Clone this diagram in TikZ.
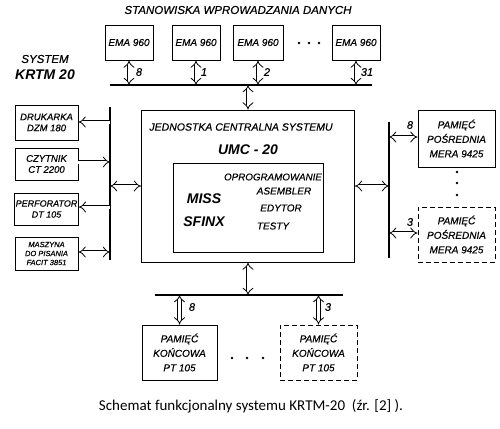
\documentclass[tikz,border=0pt]{standalone}
\usepackage{fontspec}
\setmainfont{Liberation Sans}
\newfontfamily\capfont{Carlito}
\newcommand\dfnt{\itshape\addfontfeature{FakeBold=0.5}}
\usetikzlibrary{arrows.meta}
\begin{document}
\begin{tikzpicture}[x=1pt,y=-1pt,
  box/.style={draw, line width=0.9pt, inner sep=1pt, align=center, font=\fontsize{9.5}{11}\selectfont\dfnt},
  bigbox/.style={box, align=center, font=\fontsize{10}{14.5}\selectfont\dfnt},
  dsh/.style={dashed, dash pattern=on 5pt off 3pt},
  bus/.style={line width=1.1pt},
  darr/.style={double, double distance=3pt, line width=0.8pt},
  lbl/.style={font=\fontsize{10}{11}\selectfont\dfnt, inner sep=0pt},
  num/.style={font=\fontsize{11}{12}\selectfont\dfnt, inner sep=0pt},
  dot/.style={circle, fill, inner sep=0pt, minimum size=2.6pt}]
\useasboundingbox (0,0) rectangle (500,428);

% title
\node[lbl, font=\fontsize{11.5}{12}\selectfont\dfnt] (title) at (238,10) {STANOWISKA WPROWADZANIA DANYCH};
\node[lbl, font=\fontsize{11.5}{12}\selectfont\dfnt] (sys) at (45,59) {SYSTEM};
\node[lbl, font=\itshape\bfseries\fontsize{14}{15}\selectfont] (krtm) at (45,75) {KRTM 20};

% EMA boxes
\node[box, minimum width=48pt, minimum height=35pt, font=\fontsize{10}{11}\selectfont\dfnt] (e1) at (129,42.5) {EMA 960};
\node[box, minimum width=48pt, minimum height=35pt, font=\fontsize{10}{11}\selectfont\dfnt] (e2) at (196,42.5) {EMA 960};
\node[box, minimum width=50pt, minimum height=35pt, font=\fontsize{10}{11}\selectfont\dfnt] (e3) at (258,42.5) {EMA 960};
\node[box, minimum width=48pt, minimum height=35pt, font=\fontsize{10}{11}\selectfont\dfnt] (e4) at (356,42.5) {EMA 960};
\node[dot] (d1) at (299,43) {};
\node[dot] (d2) at (309,43) {};
\node[dot] (d3) at (319,43) {};

% top bus
\coordinate (tbL) at (110,85);
\coordinate (tbR) at (372,85);
\draw[bus] (tbL) -- (tbR);
\draw[darr, Implies-Implies] (e1.south) -- (e1.south |- tbL);
\draw[darr, Implies-Implies] (e2.south) -- (e2.south |- tbL);
\draw[darr, Implies-Implies] (e3.south) -- (e3.south |- tbL);
\draw[darr, Implies-Implies] (e4.south) -- (e4.south |- tbL);
\node[num] (n1) at (139,72) {8};
\node[num] (n2) at (204,72) {1};
\node[num] (n3) at (267,72) {2};
\node[num] (n4) at (367,72) {31};

% central unit
\node[box, minimum width=213pt, minimum height=152pt] (cu) at (248,186) {};
\node[lbl, font=\fontsize{10.5}{12}\selectfont\dfnt] (cut) at (241,127) {JEDNOSTKA CENTRALNA SYSTEMU};
\node[lbl, font=\itshape\bfseries\fontsize{14}{15}\selectfont] (umc) at (248,150) {UMC - 20};
\node[box, minimum width=150pt, minimum height=89pt] (sw) at (248,207.5) {};
\node[lbl, font=\fontsize{9.8}{10}\selectfont\dfnt] (opr) at (273,177) {OPROGRAMOWANIE};
\node[lbl] (ase) at (284,191) {ASEMBLER};
\node[lbl] (edy) at (281,208) {EDYTOR};
\node[lbl] (tes) at (273,226) {TESTY};
\node[lbl, font=\itshape\bfseries\fontsize{14}{15}\selectfont] (miss) at (204,199) {MISS};
\node[lbl, font=\itshape\bfseries\fontsize{14}{15}\selectfont] (sfx) at (204,222) {SFINX};
\draw[darr, Implies-Implies] (cu.north) -- (cu.north |- tbL);

% left bus
\coordinate (lbT) at (110,107);
\coordinate (lbB) at (110,260);
\draw[bus] (lbT) -- (lbB);
\node[box, minimum width=63pt, minimum height=35pt] (l1) at (46.5,122.5) {DRUKARKA\\DZM 180};
\node[box, minimum width=63pt, minimum height=32pt] (l2) at (46.5,164) {CZYTNIK\\CT 2200};
\node[box, minimum width=63pt, minimum height=32pt, font=\fontsize{9}{11}\selectfont\dfnt] (l3) at (46.5,209) {PERFORATOR\\DT 105};
\node[box, minimum width=63pt, minimum height=33pt, font=\fontsize{7.5}{9}\selectfont\dfnt] (l4) at (46.5,253.5) {MASZYNA\\DO PISANIA\\FACIT 3851};
\draw[darr, Implies-] (l1.east |- 0,122) -- (lbT |- 0,122);
\draw[darr, -Implies] (l2.east |- 0,162) -- (lbT |- 0,162);
\draw[darr, Implies-] (l3.east |- 0,207) -- (lbT |- 0,207);
\draw[darr, Implies-Implies] (l4.east |- 0,252) -- (lbT |- 0,252);
\draw[darr, Implies-Implies] (cu.west) -- (cu.west -| lbT);

% right bus
\coordinate (rbT) at (389,122);
\coordinate (rbB) at (389,258);
\draw[bus] (rbT) -- (rbB);
\node[bigbox, minimum width=77pt, minimum height=57pt] (r1) at (456.5,138.5) {PAMIĘĆ\\POŚREDNIA\\MERA 9425};
\node[bigbox, dsh, minimum width=77pt, minimum height=55pt] (r2) at (456.5,234.5) {PAMIĘĆ\\POŚREDNIA\\MERA 9425};
\draw[darr, Implies-Implies] (r1.west |- 0,137) -- (rbT |- 0,137);
\draw[darr, Implies-Implies] (r2.west |- 0,233) -- (rbT |- 0,233);
\node[num] (n5) at (410,125) {8};
\node[num] (n6) at (410,222) {3};
\node[dot] (d4) at (457,172) {};
\node[dot] (d5) at (457,183) {};
\node[dot] (d6) at (457,195) {};
\draw[darr, Implies-Implies] (cu.east) -- (cu.east -| rbT);

% bottom bus
\coordinate (bbL) at (155,295);
\coordinate (bbR) at (343,295);
\draw[bus] (bbL) -- (bbR);
\node[bigbox, minimum width=75pt, minimum height=55pt] (b1) at (179.5,352.5) {PAMIĘĆ\\KOŃCOWA\\PT 105};
\node[bigbox, dsh, minimum width=77pt, minimum height=55pt] (b2) at (318.5,352.5) {PAMIĘĆ\\KOŃCOWA\\PT 105};
\draw[darr, Implies-Implies] (b1.north) -- (b1.north |- bbL);
\draw[darr, Implies-Implies] (b2.north) -- (b2.north |- bbL);
\node[num] (n7) at (192,307) {8};
\node[num] (n8) at (328,307) {3};
\node[dot] (d7) at (232,358) {};
\node[dot] (d8) at (247,358) {};
\node[dot] (d9) at (263,358) {};
\draw[darr, Implies-Implies] (cu.south) -- (cu.south |- bbL);

% caption
\node[inner sep=0pt, font=\capfont\fontsize{15}{17}\selectfont] (cap) at (251,406) {Schemat funkcjonalny systemu KRTM-20\ \ (źr. [2] ).};
\end{tikzpicture}
\end{document}
